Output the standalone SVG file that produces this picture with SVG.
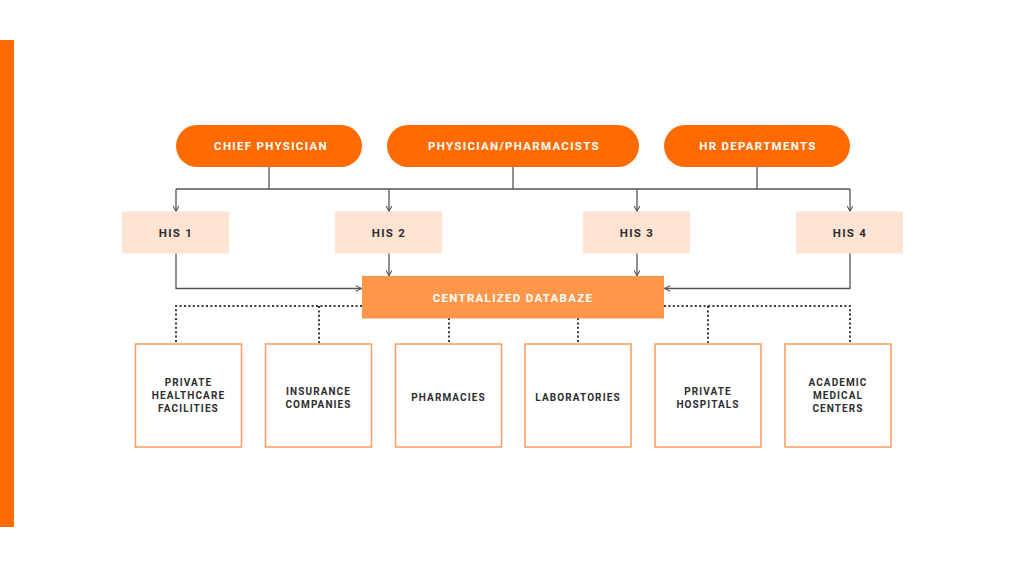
<svg xmlns="http://www.w3.org/2000/svg" width="1024" height="567" viewBox="0 0 1024 567">
<defs>
<marker id="arr" viewBox="0 0 10 10" refX="9" refY="5" markerWidth="7" markerHeight="7" orient="auto" markerUnits="userSpaceOnUse">
<path d="M1,1 L9,5 L1,9" fill="none" stroke="#555" stroke-width="1.5"/>
</marker>
<style>
.pill{fill:#FF6B00}
.his{fill:#FFE4D4}
.db{fill:#FF974B}
.box{fill:#fff;stroke:#FF9C5E;stroke-width:1.5}
.wt{fill:#fff;font-family:Roboto,"Liberation Sans",sans-serif;font-weight:bold;font-size:11.5px;letter-spacing:1.3px;text-anchor:middle;dominant-baseline:central}
.dt{fill:#2e2e2e;font-family:Roboto,"Liberation Sans",sans-serif;font-weight:bold;font-size:11.5px;letter-spacing:1.3px;text-anchor:middle;dominant-baseline:central}
.st{fill:#2e2e2e;font-family:Roboto,"Liberation Sans",sans-serif;font-weight:bold;font-size:10px;letter-spacing:1.1px;text-anchor:middle;dominant-baseline:central}
.ln{fill:none;stroke:#555;stroke-width:1.3}
.dot{fill:none;stroke:#3a3a3a;stroke-width:2;stroke-dasharray:2 2.4}
</style>
</defs>
<rect x="0" y="40" width="14" height="487" fill="#FF6B00"/>
<g id="connectors">
<path class="ln" d="M269,167 V189 M513,167 V189 M757,167 V189 M176,189 H850"/>
<path class="ln" d="M176,189 V211.5" marker-end="url(#arr)"/>
<path class="ln" d="M389,189 V211.5" marker-end="url(#arr)"/>
<path class="ln" d="M637,189 V211.5" marker-end="url(#arr)"/>
<path class="ln" d="M850,189 V211.5" marker-end="url(#arr)"/>
<path class="ln" d="M176,253 V288.5 H361.5" marker-end="url(#arr)"/>
<path class="ln" d="M850,253 V288.5 H664.5" marker-end="url(#arr)"/>
<path class="ln" d="M389,253 V276" marker-end="url(#arr)"/>
<path class="ln" d="M637,253 V276" marker-end="url(#arr)"/>
<path class="dot" d="M362,306 H176 V343 M319,306 V343 M449,318 V343 M578,318 V343 M664,306 H850 V343 M708,306 V343"/>
</g>
<g id="chief"><rect class="pill" x="176" y="125" width="186" height="42" rx="21"/><text class="wt" x="271" y="146">CHIEF PHYSICIAN</text></g>
<g id="physician"><rect class="pill" x="387" y="125" width="252" height="42" rx="21"/><text class="wt" x="514" y="146">PHYSICIAN/PHARMACISTS</text></g>
<g id="hr"><rect class="pill" x="664" y="125" width="186" height="42" rx="21"/><text class="wt" x="758" y="146">HR DEPARTMENTS</text></g>
<g id="his1"><rect class="his" x="122" y="211.5" width="107" height="42"/><text class="dt" x="176" y="233">HIS 1</text></g>
<g id="his2"><rect class="his" x="335" y="211.5" width="107" height="42"/><text class="dt" x="389" y="233">HIS 2</text></g>
<g id="his3"><rect class="his" x="583" y="211.5" width="107" height="42"/><text class="dt" x="637" y="233">HIS 3</text></g>
<g id="his4"><rect class="his" x="796" y="211.5" width="107" height="42"/><text class="dt" x="850" y="233">HIS 4</text></g>
<g id="db"><rect class="db" x="362" y="276" width="302" height="42.5"/><text class="wt" x="513" y="297.5">CENTRALIZED DATABAZE</text></g>
<g id="private-healthcare"><rect class="box" x="135.5" y="344" width="106" height="103"/><text class="st" x="188.5" y="382">PRIVATE</text><text class="st" x="188.5" y="395">HEALTHCARE</text><text class="st" x="188.5" y="408">FACILITIES</text></g>
<g id="insurance"><rect class="box" x="265.5" y="344" width="106" height="103"/><text class="st" x="318.5" y="391">INSURANCE</text><text class="st" x="318.5" y="404">COMPANIES</text></g>
<g id="pharmacies"><rect class="box" x="395.5" y="344" width="106" height="103"/><text class="st" x="448.5" y="397.5">PHARMACIES</text></g>
<g id="laboratories"><rect class="box" x="525" y="344" width="106" height="103"/><text class="st" x="578" y="397.5">LABORATORIES</text></g>
<g id="private-hospitals"><rect class="box" x="655" y="344" width="106" height="103"/><text class="st" x="708" y="391">PRIVATE</text><text class="st" x="708" y="404">HOSPITALS</text></g>
<g id="academic"><rect class="box" x="785" y="344" width="106" height="103"/><text class="st" x="838" y="382">ACADEMIC</text><text class="st" x="838" y="395">MEDICAL</text><text class="st" x="838" y="408">CENTERS</text></g>
</svg>
